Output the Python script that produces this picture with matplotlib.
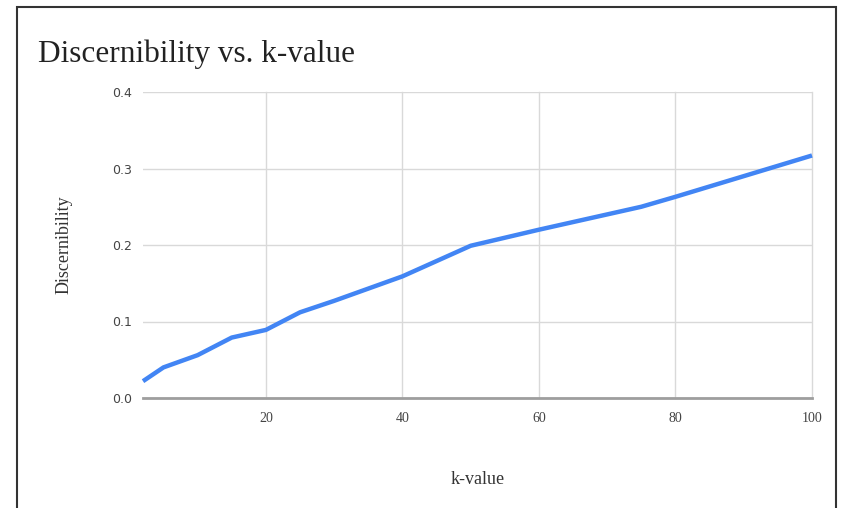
import matplotlib.pyplot as plt
from matplotlib.patches import Rectangle

k_values = [2, 5, 10, 15, 20, 25, 30, 35, 40, 50, 60, 75, 80, 90, 100]
discern = [0.022, 0.040, 0.056, 0.079, 0.089, 0.112, 0.127, 0.143, 0.159,
           0.199, 0.220, 0.250, 0.263, 0.290, 0.317]

x_ticks = [20, 40, 60, 80, 100]
y_ticks = [0.0, 0.1, 0.2, 0.3, 0.4]
y_labels = ['0.0', '0.1', '0.2', '0.3', '0.4']

W, H = 841, 508
fig = plt.figure(figsize=(W / 100, H / 100), dpi=100)
fig.patch.set_facecolor('white')

# outer frame of the screenshot
fig.patches.append(Rectangle((17 / W, -0.05), (836 - 17) / W, 1.05 - 7 / H,
                             transform=fig.transFigure, fill=False,
                             edgecolor='#333333', linewidth=1.5))

ax = fig.add_axes([143 / W, 1 - 398 / H, (812 - 143) / W, (398 - 92) / H])
ax.plot(k_values, discern, color='#4285f4', linewidth=3.2,
        solid_capstyle='butt', zorder=3, clip_on=False)

ax.set_xlim(2, 100)
ax.set_ylim(0, 0.4)
ax.set_xticks(x_ticks)
ax.set_yticks(y_ticks)
ax.set_yticklabels(y_labels)
ax.grid(True, color='#d9d9d9', linewidth=1)
for gl in ax.get_xgridlines():
    gl.set_clip_on(False)
for s in ['top', 'right', 'left']:
    ax.spines[s].set_visible(False)
ax.spines['bottom'].set_color('#9e9e9e')
ax.spines['bottom'].set_linewidth(2)
ax.spines['bottom'].set_zorder(2)
ax.tick_params(length=0, colors='#444444')
ax.tick_params(axis='x', pad=10, labelsize=10)
ax.tick_params(axis='y', pad=8, labelsize=9)
for lab in ax.get_xticklabels():
    lab.set_family('Liberation Serif')
    lab.set_fontstretch('condensed')

fig.text(38 / W, 1 - 62 / H, 'Discernibility vs. k-value',
         family='Liberation Serif', fontsize=22.5, color='#222222',
         ha='left', va='baseline')
ax.set_xlabel('k-value', family='Liberation Serif', fontsize=13,
              color='#333333', labelpad=33)
ax.set_ylabel('Discernibility', family='Liberation Serif', fontsize=13,
              color='#333333', labelpad=28)

fig.savefig('out.png', dpi=100)
